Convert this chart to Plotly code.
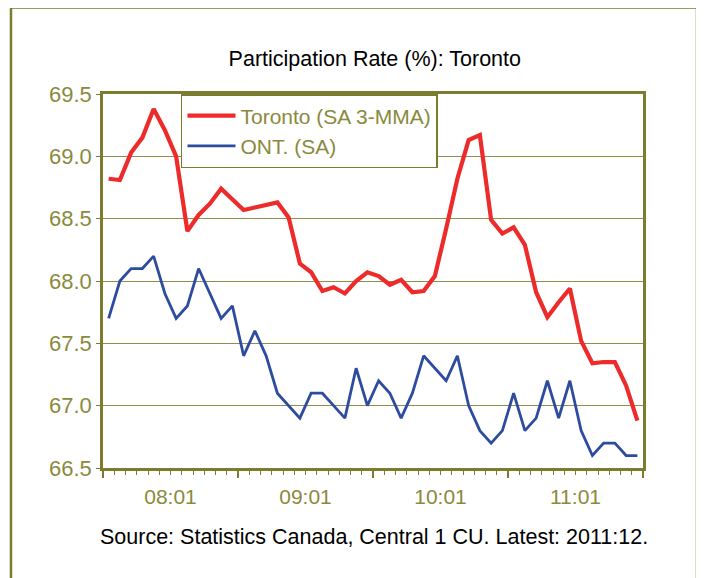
import plotly.graph_objects as go

# -- Data --------------------------------------------------------------------

MONTHS = [f"{y}:{m:02d}" for y in range(2008, 2012) for m in range(1, 13)]

TORONTO_SA_3MMA = [
    68.82, 68.81, 69.03, 69.15, 69.38, 69.21, 69.00, 68.40, 68.53, 68.62,
    68.74, 68.66, 68.57, 68.59, 68.61, 68.63, 68.51, 68.14, 68.07, 67.92,
    67.95, 67.90, 68.00, 68.07, 68.04, 67.97, 68.01, 67.91, 67.92, 68.04,
    68.42, 68.82, 69.13, 69.17, 68.49, 68.38, 68.43, 68.29, 67.91, 67.71,
    67.83, 67.94, 67.52, 67.34, 67.35, 67.35, 67.16, 66.88,
]

ONT_SA = [
    67.7, 68.0, 68.1, 68.1, 68.2, 67.9, 67.7, 67.8, 68.1, 67.9,
    67.7, 67.8, 67.4, 67.6, 67.4, 67.1, 67.0, 66.9, 67.1, 67.1,
    67.0, 66.9, 67.3, 67.0, 67.2, 67.1, 66.9, 67.1, 67.4, 67.3,
    67.2, 67.4, 67.0, 66.8, 66.7, 66.8, 67.1, 66.8, 66.9, 67.2,
    66.9, 67.2, 66.8, 66.6, 66.7, 66.7, 66.6, 66.6,
]

YEAR_LABELS = ["08:01", "09:01", "10:01", "11:01"]
Y_TICKS = [66.5, 67.0, 67.5, 68.0, 68.5, 69.0, 69.5]

# -- Style -------------------------------------------------------------------

OLIVE = "#7C7C2E"
OLIVE_TEXT = "#8A8A3C"
GRID = "#8E8E48"
RED = "#EE2B2B"
BLUE = "#2E4C9F"
FONT = "Liberation Sans, Arial, sans-serif"

x_idx = list(range(len(MONTHS)))
label_pos = [12 * k + 5.5 for k in range(len(YEAR_LABELS))]
year_edges = [12 * k - 0.5 for k in range(len(YEAR_LABELS) + 1)]

fig = go.Figure()
fig.add_trace(go.Scatter(
    x=x_idx, y=TORONTO_SA_3MMA, mode="lines", name="Toronto (SA 3-MMA)",
    line={"color": RED, "width": 4.2}, customdata=MONTHS,
))
fig.add_trace(go.Scatter(
    x=x_idx, y=ONT_SA, mode="lines", name="ONT. (SA)",
    line={"color": BLUE, "width": 2.8}, customdata=MONTHS,
))

# page body has an 8px margin, so the figure is 8px smaller than the window
fig.update_layout(
    width=696, height=570,
    margin={"l": 95, "r": 61, "t": 86, "b": 110},
    paper_bgcolor="white", plot_bgcolor="white",
    font={"family": FONT, "color": OLIVE_TEXT, "size": 21},
    title={
        "text": "Participation Rate (%): Toronto",
        "x": 0.527, "y": 0.912, "xanchor": "center", "yanchor": "middle",
        "font": {"size": 21.5, "color": "black", "family": FONT},
    },
    showlegend=True,
    legend={
        "x": 0.1444, "y": 1.0, "xanchor": "left", "yanchor": "top",
        "bgcolor": "white", "bordercolor": OLIVE, "borderwidth": 1.5,
        "font": {"size": 21, "color": OLIVE_TEXT},
        "tracegroupgap": 0, "itemwidth": 48,
    },
    xaxis={
        "range": [-0.5, 47.5], "showgrid": False, "zeroline": False,
        "showline": True, "linecolor": OLIVE, "linewidth": 2.5, "mirror": True,
        "tickmode": "array", "tickvals": label_pos, "ticktext": YEAR_LABELS,
        "ticks": "outside", "ticklen": 4, "tickcolor": OLIVE, "tickwidth": 1,
        "ticklabelstandoff": 4,
        "tickfont": {"size": 21, "color": OLIVE_TEXT},
        "minor": {"tickmode": "linear", "tick0": -0.5, "dtick": 1,
                  "ticks": "outside", "ticklen": 4, "tickcolor": OLIVE,
                  "tickwidth": 1, "showgrid": False},
    },
    xaxis2={
        "range": [-0.5, 47.5], "overlaying": "x", "anchor": "y",
        "side": "bottom", "showgrid": False, "zeroline": False,
        "showline": False, "showticklabels": False,
        "tickmode": "array", "tickvals": year_edges,
        "ticks": "outside", "ticklen": 9, "tickcolor": OLIVE, "tickwidth": 1.5,
    },
    yaxis={
        "range": [66.5, 69.5], "tickmode": "array", "tickvals": Y_TICKS,
        "tickformat": ".1f", "showgrid": True, "gridcolor": GRID, "gridwidth": 1,
        "zeroline": False, "showline": True, "linecolor": OLIVE,
        "linewidth": 2.5, "mirror": True,
        "ticks": "outside", "ticklen": 4, "tickcolor": OLIVE,
        "tickfont": {"size": 22, "color": OLIVE_TEXT},
    },
)

# invisible trace so the overlay axis carrying the year ticks is drawn
fig.add_trace(go.Scatter(
    x=[x_idx[0]], y=[ONT_SA[0]], xaxis="x2", mode="markers",
    marker={"opacity": 0}, showlegend=False, hoverinfo="skip",
))

fig.add_annotation(
    text="Source: Statistics Canada, Central 1 CU. Latest: 2011:12.",
    xref="paper", yref="paper", x=0.502, y=-0.1845,
    xanchor="center", yanchor="middle", showarrow=False,
    font={"size": 21.5, "color": "black", "family": FONT},
)

# outer chart frame
fig.add_shape(
    type="rect", xref="paper", yref="paper",
    x0=-0.1704, x1=1.1, y0=-0.33, y1=1.2313,
    line={"color": OLIVE, "width": 2.5}, fillcolor="rgba(0,0,0,0)",
    layer="below",
)

fig.write_html("out.html")
